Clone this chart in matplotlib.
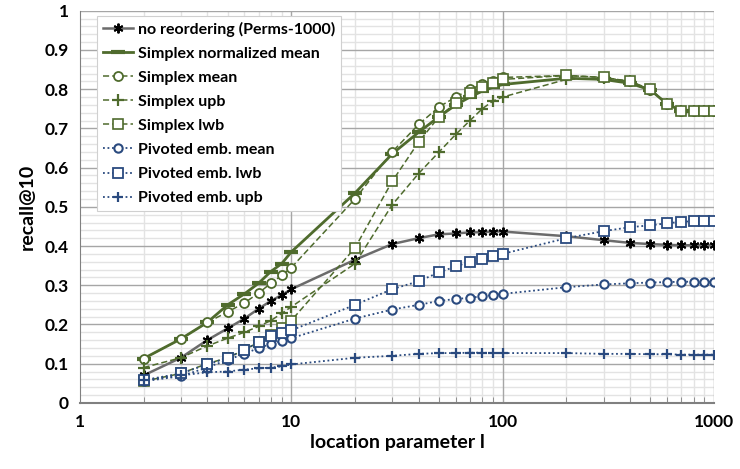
import numpy as np
import matplotlib as mpl
mpl.use('Agg')
import matplotlib.pyplot as plt
from matplotlib.ticker import FixedLocator, NullFormatter

# x positions (location parameter l)
l_vals = [2, 3, 4, 5, 6, 7, 8, 9, 10, 20, 30, 40, 50, 60, 70, 80, 90, 100,
          200, 300, 400, 500, 600, 700, 800, 900, 1000]

no_reorder = [0.070, 0.115, 0.160, 0.190, 0.215, 0.240, 0.260, 0.275, 0.290,
              0.365, 0.405, 0.420, 0.430, 0.432, 0.435, 0.435, 0.437, 0.437,
              0.425, 0.415, 0.408, 0.405, 0.403, 0.402, 0.402, 0.402, 0.402]
simplex_norm_mean = [0.113, 0.163, 0.205, 0.250, 0.278, 0.305, 0.335, 0.355, 0.385,
                     0.535, 0.635, 0.690, 0.730, 0.760, 0.780, 0.795, 0.805, 0.812,
                     0.828, 0.825, 0.815, 0.798, 0.762, 0.745, 0.745, 0.745, 0.745]
simplex_mean = [0.113, 0.163, 0.205, 0.232, 0.255, 0.280, 0.305, 0.325, 0.345,
                0.520, 0.640, 0.710, 0.755, 0.780, 0.800, 0.812, 0.820, 0.830,
                0.835, 0.830, 0.820, 0.798, 0.762, 0.745, 0.745, 0.745, 0.745]
simplex_upb = [0.090, 0.115, 0.145, 0.165, 0.180, 0.195, 0.210, 0.228, 0.245,
               0.355, 0.505, 0.585, 0.640, 0.685, 0.720, 0.750, 0.770, 0.780,
               0.825, 0.828, 0.820, 0.798, 0.762, 0.745, 0.745, 0.745, 0.745]
simplex_lwb = [0.055, 0.075, 0.100, 0.115, 0.135, 0.155, 0.172, 0.190, 0.210,
               0.395, 0.565, 0.665, 0.730, 0.765, 0.790, 0.805, 0.815, 0.825,
               0.835, 0.830, 0.820, 0.800, 0.762, 0.745, 0.745, 0.745, 0.745]
pivot_mean = [0.055, 0.068, 0.090, 0.110, 0.125, 0.140, 0.150, 0.158, 0.165,
              0.215, 0.238, 0.250, 0.260, 0.265, 0.268, 0.272, 0.275, 0.278,
              0.295, 0.302, 0.305, 0.307, 0.308, 0.309, 0.309, 0.309, 0.309]
pivot_lwb = [0.058, 0.075, 0.098, 0.115, 0.135, 0.155, 0.170, 0.178, 0.185,
             0.250, 0.290, 0.310, 0.333, 0.348, 0.360, 0.368, 0.375, 0.380,
             0.420, 0.438, 0.448, 0.453, 0.458, 0.462, 0.463, 0.464, 0.465]
pivot_upb = [0.058, 0.070, 0.078, 0.080, 0.085, 0.088, 0.090, 0.093, 0.098,
             0.115, 0.120, 0.125, 0.127, 0.127, 0.128, 0.128, 0.127, 0.127,
             0.127, 0.125, 0.125, 0.124, 0.124, 0.123, 0.123, 0.123, 0.123]

GREEN = '#4f6b2d'
BLUE = '#2a4a7f'

plt.rcParams['font.family'] = ['Lato', 'DejaVu Sans']
plt.rcParams['font.weight'] = 'bold'

fig = plt.figure(figsize=(7.4, 4.69), dpi=100)
ax = fig.add_axes([0.108, 0.141, 0.857, 0.836])

ax.plot(l_vals, no_reorder, color='#6b6b6b', lw=1.8, marker=(6, 2, 0), ms=7,
        mec='black', mfc='black', mew=1.4, label='no reordering (Perms-1000)')
ax.plot(l_vals, simplex_norm_mean, color=GREEN, lw=2.0, marker='_', ms=10, mew=3,
        label='Simplex normalized mean')
ax.plot(l_vals, simplex_mean, color=GREEN, lw=1.1, ls=(0, (4, 2)), marker='o', ms=6.5,
        mfc='white', mec=GREEN, mew=1.3, label='Simplex mean')
ax.plot(l_vals, simplex_upb, color=GREEN, lw=1.1, ls=(0, (4, 2)), marker='+', ms=8,
        mec=GREEN, mew=1.6, label='Simplex upb')
ax.plot(l_vals, simplex_lwb, color=GREEN, lw=1.1, ls=(0, (4, 2)), marker='s', ms=7,
        mfc='white', mec=GREEN, mew=1.2, label='Simplex lwb')
ax.plot(l_vals, pivot_mean, color=BLUE, lw=1.3, ls=(0, (1, 1.5)), marker='o', ms=6,
        mfc='white', mec=BLUE, mew=1.5, label='Pivoted emb. mean')
ax.plot(l_vals, pivot_lwb, color=BLUE, lw=1.3, ls=(0, (1, 1.5)), marker='s', ms=7,
        mfc='white', mec=BLUE, mew=1.3, label='Pivoted emb. lwb')
ax.plot(l_vals, pivot_upb, color=BLUE, lw=1.3, ls=(0, (1, 1.5)), marker='+', ms=7,
        mec=BLUE, mew=1.6, label='Pivoted emb. upb')

ax.set_xscale('log')
ax.set_xlim(1, 1000)
ax.set_ylim(0, 1)
ax.set_xticks([1, 10, 100, 1000])
ax.set_xticklabels(['1', '10', '100', '1000'])
ax.xaxis.set_minor_locator(FixedLocator([m * d for d in (1, 10, 100) for m in range(2, 10)]))
ax.xaxis.set_minor_formatter(NullFormatter())
ax.set_yticks(np.arange(0, 1.01, 0.1))
ax.set_yticklabels(['0', '0.1', '0.2', '0.3', '0.4', '0.5', '0.6', '0.7', '0.8', '0.9', '1'])
ax.yaxis.set_minor_locator(FixedLocator(np.arange(0, 1.001, 0.02)))

# light minor grid, darker major grid drawn on top of it
ax.grid(True, which='minor', color='#e3e3e3', lw=1.0, ls='-')
ax.set_axisbelow(True)
for yv in np.arange(0.1, 1.01, 0.1):
    ax.axhline(yv, color='#a6a6a6', lw=1.0, zorder=0.6)
for xv in [10, 100, 1000]:
    ax.axvline(xv, color='#a6a6a6', lw=1.0, zorder=0.6)

ax.tick_params(axis='both', which='major', labelsize=12.5, length=0, pad=8)
ax.tick_params(axis='y', which='minor', length=0)
ax.tick_params(axis='x', which='minor', direction='in', length=4, color='#808080')
for lab in ax.get_xticklabels() + ax.get_yticklabels():
    lab.set_fontweight('bold')

for s in ['top', 'right']:
    ax.spines[s].set_visible(False)
ax.spines['left'].set_color('#808080')
ax.spines['bottom'].set_color('#808080')
ax.spines['bottom'].set_linewidth(1.5)

ax.set_ylabel('recall@10', fontsize=14, fontweight='bold', labelpad=6)
ax.set_xlabel('location parameter l', fontsize=14, fontweight='bold', labelpad=3)

leg = ax.legend(loc='upper left', bbox_to_anchor=(0.022, 0.995),
                prop={'weight': 'bold', 'size': 11.5}, frameon=True, fancybox=False,
                edgecolor='#d0d0d0', framealpha=1.0, handlelength=1.9,
                handletextpad=0.3, labelspacing=0.62, borderpad=0.35, borderaxespad=0.2)
leg.get_frame().set_linewidth(0.8)
leg.set_zorder(5)

plt.savefig('out.png', dpi=100)
